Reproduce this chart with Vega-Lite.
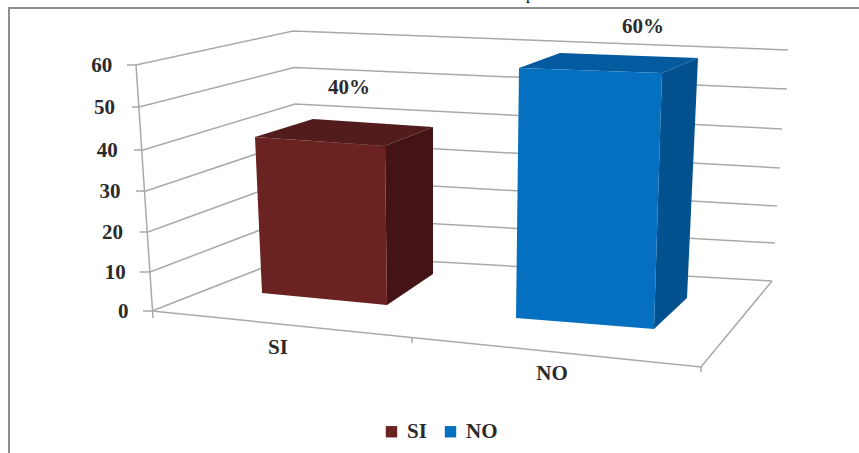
{
  "$schema": "https://vega.github.io/schema/vega-lite/v6.json",
  "width": 859,
  "height": 453,
  "padding": 0,
  "autosize": {"type": "none"},
  "background": "#ffffff",
  "view": {"stroke": null},
  "config": {"axis": {"grid": false, "domain": false, "ticks": false}},
  "datasets": {
    "frame": [
      {"line": "frame", "step": 1, "x": -143, "y": -35.5},
      {"line": "frame", "step": 2, "x": -143, "y": 73.57},
      {"line": "frame", "step": 3, "x": 707, "y": 73.57}
    ],
    "walls": [
      {"line": "g60", "step": 1, "x": -25, "y": 60},
      {"line": "g60", "step": 2, "x": -16, "y": 60},
      {"line": "g60", "step": 3, "x": 141, "y": 68.1},
      {"line": "g60", "step": 4, "x": 636, "y": 63.57},
      {"line": "g50", "step": 1, "x": -20, "y": 50},
      {"line": "g50", "step": 2, "x": -13, "y": 50},
      {"line": "g50", "step": 3, "x": 142, "y": 59.4},
      {"line": "g50", "step": 4, "x": 635, "y": 54.29},
      {"line": "g40", "step": 1, "x": -18, "y": 40},
      {"line": "g40", "step": 2, "x": -9, "y": 40},
      {"line": "g40", "step": 3, "x": 143, "y": 50.71},
      {"line": "g40", "step": 4, "x": 630, "y": 44.88},
      {"line": "g30", "step": 1, "x": -16, "y": 30},
      {"line": "g30", "step": 2, "x": -6, "y": 30},
      {"line": "g30", "step": 3, "x": 143, "y": 42.09},
      {"line": "g30", "step": 4, "x": 628, "y": 35.61},
      {"line": "g20", "step": 1, "x": -12, "y": 20},
      {"line": "g20", "step": 2, "x": -4, "y": 20},
      {"line": "g20", "step": 3, "x": 144, "y": 33.17},
      {"line": "g20", "step": 4, "x": 625, "y": 26.34},
      {"line": "g10", "step": 1, "x": -12, "y": 10},
      {"line": "g10", "step": 2, "x": -2, "y": 10},
      {"line": "g10", "step": 3, "x": 145, "y": 23.9},
      {"line": "g10", "step": 4, "x": 623, "y": 17.25},
      {"line": "g0", "step": 1, "x": -9, "y": 0},
      {"line": "g0", "step": 2, "x": 0, "y": 0},
      {"line": "g0", "step": 3, "x": 146, "y": 14.5},
      {"line": "g0", "step": 4, "x": 620, "y": 7.69},
      {"line": "axis", "step": 1, "x": -16, "y": 60},
      {"line": "axis", "step": 2, "x": 1, "y": -1.75},
      {"line": "floor", "step": 1, "x": 0, "y": 0},
      {"line": "floor", "step": 2, "x": 549, "y": -14},
      {"line": "floor", "step": 3, "x": 620, "y": 7.69},
      {"line": "tick end", "step": 1, "x": 549, "y": -14},
      {"line": "tick end", "step": 2, "x": 549, "y": -15.25},
      {"line": "tick mid", "step": 1, "x": 260, "y": -6.63},
      {"line": "tick mid", "step": 2, "x": 260, "y": -8}
    ],
    "faces": [
      {"surface": "SI lateral", "value": 40, "step": 1, "x": 233, "y": 40.93},
      {"surface": "SI lateral", "value": 40, "step": 2, "x": 281, "y": 45.35},
      {"surface": "SI lateral", "value": 40, "step": 3, "x": 281, "y": 9.49},
      {"surface": "SI lateral", "value": 40, "step": 4, "x": 235, "y": 1.54},
      {"surface": "SI superior", "value": 40, "step": 1, "x": 103, "y": 43.02},
      {"surface": "SI superior", "value": 40, "step": 2, "x": 161, "y": 47.21},
      {"surface": "SI superior", "value": 40, "step": 3, "x": 281, "y": 45.35},
      {"surface": "SI superior", "value": 40, "step": 4, "x": 233, "y": 40.93},
      {"surface": "SI", "value": 40, "step": 1, "x": 103, "y": 43.02},
      {"surface": "SI", "value": 40, "step": 2, "x": 233, "y": 40.93},
      {"surface": "SI", "value": 40, "step": 3, "x": 235, "y": 1.54},
      {"surface": "SI", "value": 40, "step": 4, "x": 110, "y": 4.62},
      {"surface": "NO lateral", "value": 60, "step": 1, "x": 510, "y": 58.1},
      {"surface": "NO lateral", "value": 60, "step": 2, "x": 546, "y": 61.67},
      {"surface": "NO lateral", "value": 60, "step": 3, "x": 535, "y": 3.33},
      {"surface": "NO lateral", "value": 60, "step": 4, "x": 502, "y": -4.5},
      {"surface": "NO superior", "value": 60, "step": 1, "x": 367, "y": 59.29},
      {"surface": "NO superior", "value": 60, "step": 2, "x": 408, "y": 62.86},
      {"surface": "NO superior", "value": 60, "step": 3, "x": 546, "y": 61.67},
      {"surface": "NO superior", "value": 60, "step": 4, "x": 510, "y": 58.1},
      {"surface": "NO", "value": 60, "step": 1, "x": 367, "y": 59.29},
      {"surface": "NO", "value": 60, "step": 2, "x": 510, "y": 58.1},
      {"surface": "NO", "value": 60, "step": 3, "x": 502, "y": -4.5},
      {"surface": "NO", "value": 60, "step": 4, "x": 364, "y": -1.75}
    ],
    "labels": [
      {"label": "40%", "x": 197, "y": 54.52},
      {"label": "60%", "x": 491, "y": 69.05},
      {"label": "SI", "x": 126, "y": -9.25},
      {"label": "NO", "x": 400, "y": -15.75}
    ],
    "heading": [
      {"label": "p", "x": 378, "y": 75.6}
    ]
  },
  "data": {"name": "walls"},
  "encoding": {
    "x": {
      "field": "x",
      "type": "quantitative",
      "axis": null,
      "scale": {"domain": [-152, 707], "range": [0, 859], "nice": false, "zero": false}
    },
    "y": {
      "field": "y",
      "type": "quantitative",
      "title": null,
      "scale": {
        "domain": [-35.5, 0, 10, 20, 30, 40, 50, 60, 75.48],
        "range": [453, 311, 272, 232, 191, 150, 107, 65, 0],
        "nice": false,
        "zero": false
      },
      "axis": {
        "values": [0, 10, 20, 30, 40, 50, 60],
        "offset": -130,
        "labelFont": "Liberation Serif",
        "labelFontWeight": "bold",
        "labelFontSize": 21,
        "labelColor": "#2b2b2b",
        "labelPadding": {"expr": "2 + datum.value * 0.27"},
        "labelBaseline": "middle",
        "labelOverlap": false
      }
    }
  },
  "layer": [
    {
      "data": {"name": "frame"},
      "mark": {"type": "line", "stroke": "#8f8f8f", "strokeWidth": 2},
      "encoding": {"order": {"field": "step", "type": "ordinal"}}
    },
    {
      "mark": {"type": "line", "stroke": "#a9a9a9", "strokeWidth": 1.5},
      "encoding": {
        "detail": {"field": "line", "type": "nominal"},
        "order": {"field": "step", "type": "ordinal"}
      }
    },
    {
      "data": {"name": "faces"},
      "mark": {"type": "line", "interpolate": "linear-closed", "strokeWidth": 0},
      "encoding": {
        "order": {"field": "step", "type": "ordinal"},
        "fill": {
          "field": "surface",
          "type": "nominal",
          "scale": {
            "domain": ["SI", "NO", "SI lateral", "SI superior", "NO lateral", "NO superior"],
            "range": ["#6b2322", "#0570c0", "#431315", "#521b1c", "#04518f", "#045a9e"]
          },
          "legend": {
            "values": ["SI", "NO"],
            "title": null,
            "orient": "none",
            "legendX": 381,
            "legendY": 421,
            "direction": "horizontal",
            "columns": 2,
            "padding": 0,
            "symbolType": "square",
            "symbolSize": 130,
            "symbolStrokeWidth": 0,
            "symbolOpacity": 1,
            "labelFont": "Liberation Serif",
            "labelFontWeight": "bold",
            "labelFontSize": 21,
            "labelColor": "#2b2b2b",
            "labelOffset": 5,
            "columnPadding": 13
          }
        }
      }
    },
    {
      "data": {"name": "labels"},
      "mark": {"type": "text", "font": "Liberation Serif", "fontWeight": "bold", "fontSize": 21, "fill": "#2b2b2b", "align": "center", "baseline": "middle"},
      "encoding": {"text": {"field": "label", "type": "nominal"}}
    },
    {
      "data": {"name": "heading"},
      "mark": {"type": "text", "font": "Liberation Serif", "fontSize": 16, "fill": "#000000", "align": "center", "baseline": "alphabetic"},
      "encoding": {"text": {"field": "label", "type": "nominal"}}
    }
  ]
}
